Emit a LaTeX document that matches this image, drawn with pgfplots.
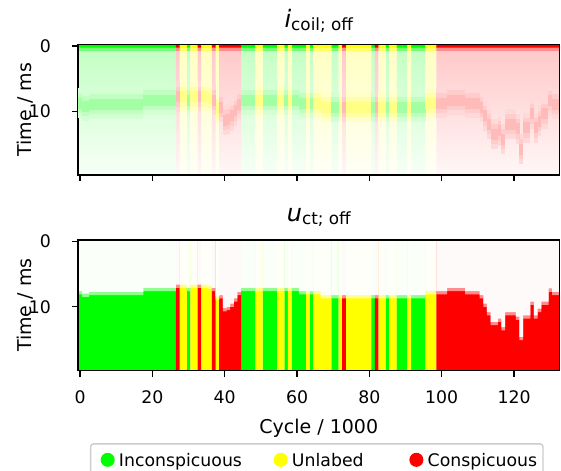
\documentclass[border=0pt]{standalone}
\usepackage{fontspec}
\setmainfont{DejaVu Sans}
\usepackage{pgfplots}
\usepackage{pgfplotstable}
\pgfplotsset{compat=1.18}
\definecolor{c0}{RGB}{0,255,0}
\definecolor{c1}{RGB}{255,255,0}
\definecolor{c2}{RGB}{255,0,0}
\pgfdeclareplotmark{bandO}{\pgfpathrectangle{\pgfqpoint{-1.85bp}{-15bp}}{\pgfqpoint{3.7bp}{30bp}}\pgfusepathqfill}
\pgfdeclareplotmark{bandA}{\pgfpathrectangle{\pgfqpoint{-1.85bp}{-10bp}}{\pgfqpoint{3.7bp}{20bp}}\pgfusepathqfill}
\pgfdeclareplotmark{bandB}{\pgfpathrectangle{\pgfqpoint{-1.85bp}{-5.5bp}}{\pgfqpoint{3.7bp}{11bp}}\pgfusepathqfill}

% k = cycle column (x1000), c = class (0 inconspicuous, 1 unlabeled, 2 conspicuous), b = onset time / ms
\pgfplotstableread{
k c b
0 0 8.1
1 0 8.5
2 0 8.5
3 0 8.2
4 0 8.2
5 0 8.2
6 0 8.2
7 0 8.2
8 0 8.2
9 0 8.2
10 0 8.2
11 0 8.2
12 0 8.2
13 0 8.2
14 0 8.2
15 0 8.2
16 0 8.2
17 0 8.2
18 0 7.6
19 0 7.6
20 0 7.6
21 0 7.6
22 0 7.6
23 0 7.6
24 0 7.6
25 0 7.6
26 0 7.6
27 2 7.1
28 1 7.1
29 1 7.1
30 0 7.6
31 1 7.1
32 1 7.1
33 2 7.1
34 1 7.1
35 1 7.1
36 1 7.3
37 2 7.6
38 1 8.9
39 2 8.7
40 2 10.7
41 2 10.5
42 2 10.0
43 2 9.2
44 2 8.2
45 0 7.6
46 0 7.6
47 0 7.6
48 0 7.6
49 1 7.6
50 1 7.6
51 0 7.6
52 0 7.6
53 0 7.6
54 0 7.6
55 1 7.6
56 1 7.6
57 0 7.6
58 1 7.6
59 0 7.6
60 0 7.6
61 0 8.1
62 0 8.1
63 1 8.1
64 0 8.1
65 1 8.1
66 1 8.1
67 1 8.7
68 1 8.7
69 1 8.7
70 0 8.7
71 0 8.7
72 1 8.7
73 2 8.7
74 1 8.7
75 1 8.7
76 1 8.7
77 1 8.7
78 1 8.7
79 1 8.7
80 1 8.7
81 0 8.7
82 2 8.7
83 1 8.7
84 1 8.7
85 0 8.7
86 1 8.7
87 1 8.7
88 0 8.7
89 0 8.7
90 0 8.7
91 1 8.7
92 0 8.7
93 0 8.7
94 0 8.7
95 0 8.7
96 1 8.1
97 1 8.1
98 1 8.1
99 2 8.1
100 2 8.1
101 2 8.1
102 2 7.6
103 2 7.6
104 2 7.6
105 2 7.6
106 2 7.6
107 2 8.1
108 2 8.1
109 2 8.1
110 2 8.1
111 2 8.7
112 2 10.0
113 2 11.3
114 2 12.8
115 2 12.8
116 2 12.3
117 2 13.6
118 2 11.3
119 2 11.3
120 2 11.3
121 2 12.0
122 2 15.1
123 2 11.8
124 2 11.8
125 2 9.7
126 2 11.8
127 2 10.8
128 2 9.7
129 2 9.7
130 2 7.7
131 2 8.2
132 2 8.2
}\data

\newcommand\barplot[3]{\addplot[forget plot, ybar, bar width=1.03, bar shift=0pt, draw=none, #2] table[x=k, y expr={\thisrow{c}==#1 ? #3 : nan}] {\data};}
\newcommand\markplot[3]{\addplot[forget plot, only marks, #2] table[x=k, y expr={\thisrow{c}==#1 ? #3 : nan}] {\data};}

\pgfplotsset{
  hm/.style={
    scale only axis, width=481.1bp, height=130.7bp,
    xmin=-0.5, xmax=132.5, ymin=0, ymax=20, y dir=reverse,
    axis on top, axis line style={line width=1.4bp},
    every tick/.style={black, line width=1.4bp},
    major tick length=6.1bp, tick align=outside,
    xtick pos=left, ytick pos=left,
    xtick={0,20,...,120}, ytick={0.25,10.25}, yticklabels={0,10},
    /pgf/number format/assume math mode=true,
    tick label style={font=\fontsize{17.3bp}{20bp}\selectfont},
    yticklabel style={anchor=east, inner sep=0pt, xshift=-21bp},
    xticklabel style={anchor=base, inner sep=0pt, yshift=-26.5bp},
    ylabel={Time / ms},
    every axis y label/.style={at={(axis description cs:-0.1106,0.5)}, rotate=90, anchor=center, font=\fontsize{19bp}{22bp}\selectfont},
    every axis x label/.style={at={(axis description cs:0.5,-0.479)}, anchor=base, font=\fontsize{19bp}{22bp}\selectfont},
    title style={at={(0.5,1)}, anchor=base, inner sep=0pt, font=\fontsize{24bp}{28bp}\selectfont},
  }
}

\begin{document}
\begin{tikzpicture}
\useasboundingbox (0,0) rectangle (561bp,471bp);
% ---------------- top panel ----------------
\begin{axis}[hm, at={(78.2bp,296bp)}, anchor=south west, xticklabels={,,,,,,,},
  title={\textit{i}\raisebox{-3bp}{\fontsize{16.8bp}{18bp}\selectfont coil; off}},
  title style={yshift=11bp}]
% background gradients
\barplot{0}{top color=c0!24!white, bottom color=c0!3!white}{20}
\barplot{1}{top color=c1!25!white, bottom color=c1!3!white}{20}
\barplot{2}{top color=c2!22!white, bottom color=c2!3!white}{20}
% diffuse band at onset
\markplot{0}{mark=bandO, color=c0!17!white}{\thisrow{b}+0.95}
\markplot{1}{mark=bandO, color=c1!22!white}{\thisrow{b}+0.95}
\markplot{2}{mark=bandO, color=c2!15!white}{\thisrow{b}+0.95}
\markplot{0}{mark=bandA, color=c0!25!white}{\thisrow{b}+0.95}
\markplot{1}{mark=bandA, color=c1!33!white}{\thisrow{b}+0.95}
\markplot{2}{mark=bandA, color=c2!20!white}{\thisrow{b}+0.95}
\markplot{0}{mark=bandB, color=c0!36!white}{\thisrow{b}+0.95}
\markplot{1}{mark=bandB, color=c1!48!white}{\thisrow{b}+0.95}
\markplot{2}{mark=bandB, color=c2!27!white}{\thisrow{b}+0.95}
% top strip
\barplot{0}{fill=c0!55!white}{1.0}
\barplot{1}{fill=c1!60!white}{1.0}
\barplot{2}{fill=c2!45!white}{1.0}
\barplot{0}{fill=c0}{0.5}
\barplot{1}{fill=c1}{0.5}
\barplot{2}{fill=c2}{0.5}
\end{axis}
% ---------------- bottom panel ----------------
\begin{axis}[hm, at={(78.2bp,100.5bp)}, anchor=south west,
  xlabel={Cycle / 1000},
  title={\textit{u}\raisebox{-3bp}{\fontsize{16.8bp}{18bp}\selectfont ct; off}},
  title style={yshift=12.7bp},
  legend columns=3, legend cell align=left,
  legend style={at={(axis description cs:0.0245,-0.5556)}, anchor=north west,
    draw=black!20, line width=1.4bp, rounded corners=3bp, fill=white,
    inner xsep=0pt, inner ysep=9bp, column sep=0pt,
    font=\fontsize{17.3bp}{20bp}\selectfont,
    nodes={inner sep=0pt, text height=13bp, text depth=4bp}}]
\barplot{0}{fill=c0}{20}
\barplot{1}{fill=c1}{20}
\barplot{2}{fill=c2}{20}
\barplot{0}{fill=c0!45!white}{\thisrow{b}+0.25}
\barplot{1}{fill=c1!45!white}{\thisrow{b}+0.25}
\barplot{2}{fill=c2!45!white}{\thisrow{b}+0.25}
\barplot{0}{fill=c0!2!white}{\thisrow{b}-0.25}
\barplot{1}{fill=c1!2!white}{\thisrow{b}-0.25}
\barplot{2}{fill=c2!2!white}{\thisrow{b}-0.25}
\addlegendimage{legend image code/.code={\path[draw=none,fill=none] (0bp,-8bp) rectangle (28.3bp,8bp); \fill[c0] (17bp,2.5bp) circle (6.3bp);}}
\addlegendentry{\makebox[144.7bp][l]{Inconspicuous}}
\addlegendimage{legend image code/.code={\path[draw=none,fill=none] (0bp,-8bp) rectangle (28.3bp,8bp); \fill[c1] (17bp,2.5bp) circle (6.3bp);}}
\addlegendentry{\makebox[107.4bp][l]{Unlabed}}
\addlegendimage{legend image code/.code={\path[draw=none,fill=none] (0bp,-8bp) rectangle (28.3bp,8bp); \fill[c2] (17bp,2.5bp) circle (6.3bp);}}
\addlegendentry{\makebox[115.3bp][l]{Conspicuous}}
\end{axis}
\end{tikzpicture}
\end{document}
